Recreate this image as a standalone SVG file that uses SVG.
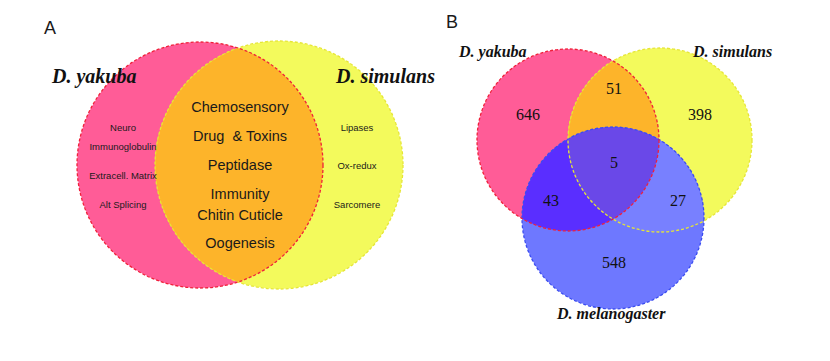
<svg xmlns="http://www.w3.org/2000/svg" width="830" height="361" viewBox="0 0 830 361">
<style>
.sans{font-family:"Liberation Sans",Arial,sans-serif;fill:#1a1a1a}
.sp{font-family:"Liberation Serif","Times New Roman",serif;font-style:italic;font-weight:bold;fill:#111}
.num{font-family:"Liberation Serif","Times New Roman",serif;font-size:16px;fill:#111}
.rs{fill:none;stroke:#f0203a;stroke-width:1.3;stroke-dasharray:3 2}
.ys{fill:none;stroke:#e6e636;stroke-width:1.3;stroke-dasharray:3 2}
.bs{fill:none;stroke:#3a4cf0;stroke-width:1.3;stroke-dasharray:3 2}
</style>
<defs>
<clipPath id="cA1"><circle cx="200" cy="165" r="123"/></clipPath>
<clipPath id="cB1"><circle cx="568" cy="140" r="91"/></clipPath>
<clipPath id="cB2"><circle cx="660" cy="140" r="92"/></clipPath>
</defs>
<rect width="830" height="361" fill="#fff"/>
<g id="panelA">
<text class="sans" x="44" y="34" font-size="18">A</text>
<g id="a-yakuba">
<circle cx="200" cy="165" r="123" fill="#ff5c97"/>
</g>
<g id="a-simulans">
<circle cx="279" cy="165" r="124" fill="#f3fa5c"/>
</g>
<g id="a-overlap">
<circle cx="279" cy="165" r="124" fill="#fdb42a" clip-path="url(#cA1)"/>
</g>
<circle class="ys" cx="279" cy="165" r="124"/>
<circle class="rs" cx="200" cy="165" r="123"/>
<text class="sp" x="52" y="83" font-size="20">D. yakuba</text>
<text class="sp" x="336" y="83" font-size="20">D. simulans</text>
<g class="sans" font-size="9.5" text-anchor="middle">
<text x="123" y="131">Neuro</text>
<text x="123" y="150">Immunoglobulin</text>
<text x="123" y="179">Extracell. Matrix</text>
<text x="123" y="208">Alt Splicing</text>
<text x="357" y="131">Lipases</text>
<text x="357" y="169">Ox-redux</text>
<text x="357" y="208">Sarcomere</text>
</g>
<g class="sans" font-size="14.5" text-anchor="middle">
<text x="240" y="112">Chemosensory</text>
<text x="240" y="141">Drug&#160; &amp; Toxins</text>
<text x="240" y="170">Peptidase</text>
<text x="240" y="199">Immunity</text>
<text x="240" y="220">Chitin Cuticle</text>
<text x="240" y="248">Oogenesis</text>
</g>
</g>
<g id="panelB">
<text class="sans" x="446" y="28" font-size="18">B</text>
<g id="b-yakuba"><circle cx="568" cy="140" r="91" fill="#ff5c97"/></g>
<g id="b-simulans"><circle cx="660" cy="140" r="92" fill="#f3fa5c"/></g>
<g id="b-melanogaster"><circle cx="613" cy="218" r="91" fill="#6e78ff"/></g>
<circle cx="660" cy="140" r="92" fill="#fdb42a" clip-path="url(#cB1)"/>
<circle cx="613" cy="218" r="91" fill="#5a2eff" clip-path="url(#cB1)"/>
<circle cx="613" cy="218" r="91" fill="#7880ff" clip-path="url(#cB2)"/>
<g clip-path="url(#cB1)"><circle cx="613" cy="218" r="91" fill="#6a48e8" clip-path="url(#cB2)"/></g>
<circle class="bs" cx="613" cy="218" r="91"/>
<circle class="ys" cx="660" cy="140" r="92"/>
<circle class="rs" cx="568" cy="140" r="91"/>
<text class="sp" x="459" y="57" font-size="16">D. yakuba</text>
<text class="sp" x="693" y="57" font-size="16">D. simulans</text>
<text class="sp" x="557" y="319" font-size="16">D. melanogaster</text>
<g class="num" text-anchor="middle">
<text x="528" y="120">646</text>
<text x="614" y="94">51</text>
<text x="700" y="120">398</text>
<text x="614" y="168">5</text>
<text x="551" y="206">43</text>
<text x="678" y="206">27</text>
<text x="614" y="268">548</text>
</g>
</g>
</svg>
